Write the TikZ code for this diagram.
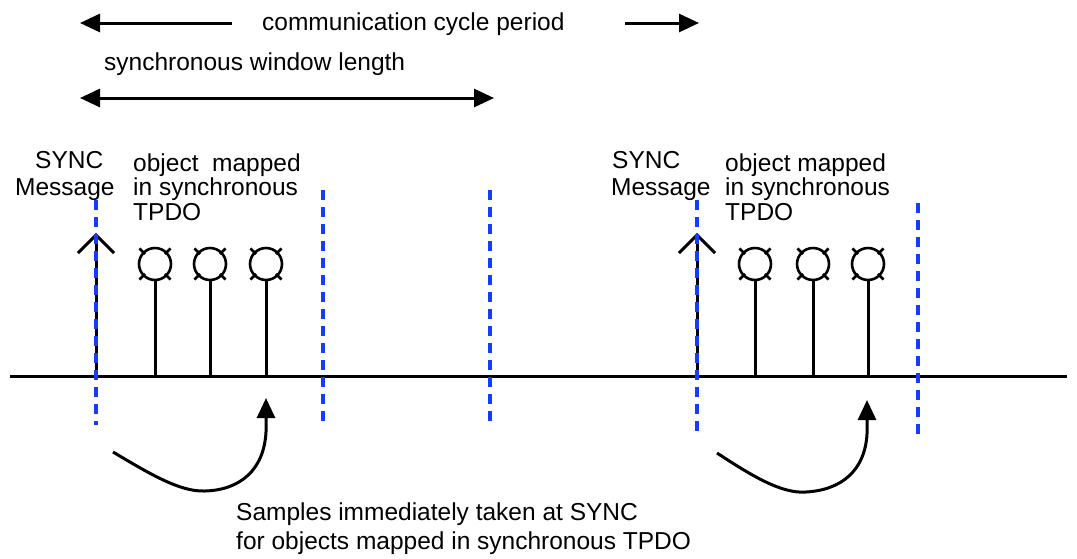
\documentclass[tikz,border=0pt]{standalone}
\usepackage{fontspec}
\setmainfont{Liberation Sans}
\usetikzlibrary{arrows.meta}
\definecolor{dashblue}{RGB}{20,60,255}
\begin{document}
\begin{tikzpicture}[x=1pt,y=-1pt,
  lbl/.style={inner sep=0pt,anchor=base west,font=\fontsize{24.5}{24.5}\selectfont,align=left},
  thick3/.style={line width=3pt},
  tipped/.style={line width=3pt,-{Triangle[length=20pt,width=18pt]}},
  bluedash/.style={draw=dashblue,line width=3.4pt,dash pattern=on 10pt off 7pt},
  sample/.style={circle,draw,line width=2.6pt,minimum size=32pt,inner sep=0pt}]
\useasboundingbox (0,0) rectangle (1077,558);
% top labels
\node[lbl] (ccp) at (262,30) {communication cycle period};
\node[lbl] (swl) at (104,70) {synchronous window length};
\coordinate (l1) at (232,23); \coordinate (l1t) at (80,23);
\coordinate (r1) at (625,23); \coordinate (r1t) at (699,23);
\draw[tipped] (l1) -- (l1t);
\draw[tipped] (r1) -- (r1t);
\coordinate (dl) at (80,98); \coordinate (dr) at (494,98);
\draw[line width=3pt,{Triangle[length=20pt,width=18pt]}-{Triangle[length=20pt,width=18pt]}] (dl) -- (dr);
% baseline
\coordinate (b0) at (10,376); \coordinate (b1) at (1067,376);
\draw[thick3] (b0) -- (b1);
% labels group 1
\node[lbl] (sync1) at (35,168) {SYNC};
\node[lbl] (msg1) at (15,195) {Message};
\node[lbl] (obj1) at (133,220) {object\ \ mapped\\in synchronous\\TPDO};
% labels group 2
\node[lbl] (sync2) at (612,168) {SYNC};
\node[lbl] (msg2) at (611,195) {Message};
\node[lbl] (obj2) at (725,220) {object mapped\\in synchronous\\TPDO};
% SYNC arrows
\foreach \n/\x in {s1/96,s2/697}{
  \coordinate (\n b) at (\x,376);
  \coordinate (\n t) at (\x,235);
  \draw[thick3] (\n b) -- (\n t);
  \draw[line width=3pt] ([shift={(-18,18)}]\n t) -- (\n t) -- ([shift={(18,18)}]\n t);
}
% samples
\foreach \n/\x in {c1/155,c2/210,c3/266,c4/755,c5/813,c6/868}{
  \node[sample] (\n) at (\x,264) {};
  \coordinate (\n g) at (\x,376);
  \draw[thick3] (\n.south) -- (\n g);
  \foreach \a in {45,135,225,315}{
    \draw[line width=2.6pt] (\n.center) ++(\a:14pt) -- ++(\a:8pt);
  }
}
% blue dashed lines
\foreach \n/\x/\ya/\yb in {d1/96/200/425,d2/323/190/425,d3/490/190/425,d4/697/200/435,d5/918/203/435}{
  \coordinate (\n a) at (\x,\ya); \coordinate (\n b) at (\x,\yb);
  \draw[bluedash] (\n a) -- (\n b);
}
% curved arrows
\coordinate (k1s) at (113,452); \coordinate (k1e) at (266,398);
\draw[tipped] (k1s) .. controls (150,474) and (180,492) .. (205,491)
  .. controls (240,490) and (264,470) .. (266,432) -- (k1e);
\coordinate (k2s) at (717,453); \coordinate (k2e) at (867,400);
\draw[tipped] (k2s) .. controls (752,476) and (782,494) .. (806,492)
  .. controls (842,490) and (865,470) .. (867,434) -- (k2e);
% bottom text
\node[lbl] (samp) at (236,520) {Samples immediately taken at SYNC};
\node[lbl] (samp2) at (236,549) {for objects mapped in synchronous TPDO};
\end{tikzpicture}
\end{document}
